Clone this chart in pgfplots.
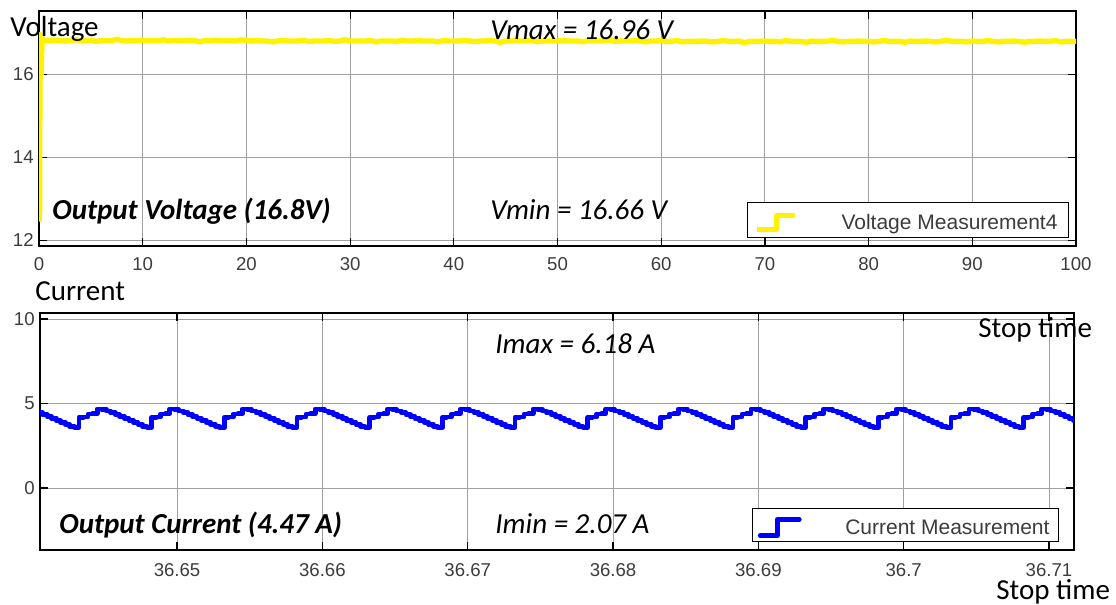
\documentclass[border=0pt]{standalone}
\usepackage{pgfplots}
\pgfplotsset{compat=1.18}
\usepackage{fontspec}
\setmainfont{Carlito}
\newfontfamily\arialfont{Liberation Sans}

\definecolor{gridgray}{RGB}{160,160,160}
\definecolor{ticktext}{RGB}{60,60,60}
\newcommand\annot{\fontsize{14.5}{17}\selectfont}

\pgfplotsset{
  scopestyle/.style={
    scale only axis,
    axis line style={black, line width=0.6pt},
    tick style={black, line width=0.6pt},
    major tick length=4pt,
    grid=major,
    grid style={gridgray, line width=0.5pt},
    /pgf/number format/assume math mode=true,
    tick label style={font=\arialfont\fontsize{9.3}{11}\selectfont, text=ticktext, inner sep=0pt},
    yticklabel style={xshift=-2.5pt},
    legend cell align=left,
    legend style={draw=black, line width=0.5pt, fill=white,
      inner xsep=0pt, inner ysep=0pt,
      font=\arialfont\fontsize{10.5}{12}\selectfont, text=ticktext},
  },
}

\begin{document}
\begin{tikzpicture}
\useasboundingbox (0,0) rectangle (558pt,302.5pt);

% ---------------- output voltage ----------------
\begin{axis}[
  scopestyle,
  at={(19.5pt,179.5pt)}, anchor=south west,
  width=518.5pt, height=117.5pt,
  xmin=0, xmax=100, ymin=11.862, ymax=17.535,
  xtick={0,10,...,100}, ytick={12,14,16},
  xticklabel style={yshift=-5.5pt},
  legend style={at={(rel axis cs:1,0)}, anchor=south east, xshift=-3.5pt, yshift=4pt,
    nodes={inner sep=0pt, text height=9.5pt, text depth=0pt}},
]
\addplot[yellow, line width=2.7pt, line join=round,
  legend image code/.code={
    \path[draw=none, fill=none] (-4.5pt,-8.75pt) rectangle (42.5pt,8.75pt);
    \draw[yellow, line width=2.4pt] (0pt,-4.75pt) -- (10pt,-4.75pt) -- (10pt,2.25pt) -- (19pt,2.25pt);
  }] coordinates {
(0.05,12.45) (0.1,16.97) (0.2,16.0) (0.3,16.88)
(0.5,16.82) (1,16.82) (1.5,16.83) (2,16.82) (2.5,16.81) (3,16.82) (3.5,16.84) (4,16.82) (4.5,16.82) (5,16.83)
(5.5,16.80) (6,16.82) (6.5,16.82) (7,16.82) (7.5,16.85) (8,16.82) (8.5,16.81) (9,16.82) (9.5,16.82) (10,16.83)
(10.5,16.82) (11,16.82) (11.5,16.82) (12,16.84) (12.5,16.81) (13,16.82) (13.5,16.82) (14,16.82) (14.5,16.83) (15,16.82)
(15.5,16.79) (16,16.82) (16.5,16.82) (17,16.83) (17.5,16.82) (18,16.82) (18.5,16.82) (19,16.81) (19.5,16.84) (20,16.82)
(20.5,16.81) (21,16.82) (21.5,16.81) (22,16.81) (22.5,16.79) (23,16.81) (23.5,16.82) (24,16.81) (24.5,16.81) (25,16.81)
(25.5,16.83) (26,16.80) (26.5,16.81) (27,16.81) (27.5,16.81) (28,16.82) (28.5,16.80) (29,16.81) (29.5,16.84) (30,16.81)
(30.5,16.81) (31,16.81) (31.5,16.81) (32,16.82) (32.5,16.79) (33,16.81) (33.5,16.81) (34,16.81) (34.5,16.80) (35,16.83)
(35.5,16.81) (36,16.81) (36.5,16.82) (37,16.81) (37.5,16.81) (38,16.81) (38.5,16.79) (39,16.82) (39.5,16.81) (40,16.81)
(40.5,16.81) (41,16.83) (41.5,16.81) (42,16.80) (42.5,16.81) (43,16.81) (43.5,16.82) (44,16.81) (44.5,16.78) (45,16.81)
(45.5,16.81) (46,16.82) (46.5,16.81) (47,16.81) (47.5,16.83) (48,16.80) (48.5,16.81) (49,16.81) (49.5,16.81) (50,16.81)
(50.5,16.82) (51,16.81) (51.5,16.81) (52,16.81) (52.5,16.79) (53,16.82) (53.5,16.81) (54,16.81) (54.5,16.81) (55,16.84)
(55.5,16.80) (56,16.81) (56.5,16.81) (57,16.81) (57.5,16.82) (58,16.81) (58.5,16.79) (59,16.81) (59.5,16.81) (60,16.82)
(60.5,16.80) (61,16.80) (61.5,16.82) (62,16.79) (62.5,16.80) (63,16.80) (63.5,16.80) (64,16.81) (64.5,16.80) (65,16.79)
(65.5,16.80) (66,16.82) (66.5,16.80) (67,16.80) (67.5,16.81) (68,16.77) (68.5,16.80) (69,16.80) (69.5,16.80) (70,16.81)
(70.5,16.80) (71,16.80) (71.5,16.79) (72,16.82) (72.5,16.80) (73,16.80) (73.5,16.80) (74,16.78) (74.5,16.81) (75,16.80)
(75.5,16.80) (76,16.80) (76.5,16.83) (77,16.80) (77.5,16.79) (78,16.80) (78.5,16.80) (79,16.81) (79.5,16.80) (80,16.80)
(80.5,16.79) (81,16.80) (81.5,16.82) (82,16.80) (82.5,16.80) (83,16.80) (83.5,16.78) (84,16.81) (84.5,16.80) (85,16.80)
(85.5,16.81) (86,16.80) (86.5,16.79) (87,16.80) (87.5,16.83) (88,16.80) (88.5,16.80) (89,16.80) (89.5,16.79) (90,16.81)
(90.5,16.80) (91,16.80) (91.5,16.82) (92,16.80) (92.5,16.79) (93,16.80) (93.5,16.80) (94,16.81) (94.5,16.80) (95,16.78)
(95.5,16.80) (96,16.80) (96.5,16.81) (97,16.80) (97.5,16.80) (98,16.82) (98.5,16.79) (99,16.80) (99.5,16.80) (100,16.80)
};
\addlegendentry{Voltage Measurement4\rule{5.5pt}{0pt}}
\end{axis}

% ---------------- output current (time axis in ms after 36.64 s) ----------------
\begin{axis}[
  scopestyle,
  at={(20pt,27.5pt)}, anchor=south west,
  width=517pt, height=118.5pt,
  xmin=0.57, xmax=71.72, ymin=-3.666, ymax=10.356,
  xtick={10,20,...,70},
  xticklabels={36.65,36.66,36.67,36.68,36.69,36.7,36.71},
  ytick={0,5,10},
  xticklabel style={yshift=-6.5pt},
  legend style={at={(rel axis cs:1,0)}, anchor=south east, xshift=-7.5pt, yshift=4pt,
    nodes={inner sep=0pt, text height=10pt, text depth=0pt}},
]
\addplot[blue, line width=2.4pt, const plot, line join=round, line cap=round,
  legend image code/.code={
    \path[draw=none, fill=none] (-4pt,-8.25pt) rectangle (42.5pt,8.25pt);
    \draw[blue, line width=2.4pt] (0pt,-5.25pt) -- (8.5pt,-5.25pt) -- (8.5pt,2.75pt) -- (19.5pt,2.75pt);
  }] coordinates {
(-0.5,4.68) (-0.1875,4.66) (0.125,4.56) (0.4375,4.45) (0.75,4.34) (1.0625,4.22) (1.375,4.11) (1.6875,3.99)
(2.0,3.88) (2.3125,3.76) (2.625,3.64) (2.9375,3.58) (3.25,4.18) (3.5625,4.20) (3.875,4.38) (4.1875,4.40)
(4.5,4.68) (4.8125,4.66) (5.125,4.56) (5.4375,4.45) (5.75,4.34) (6.0625,4.22) (6.375,4.11) (6.6875,3.99)
(7.0,3.88) (7.3125,3.76) (7.625,3.64) (7.9375,3.58) (8.25,4.18) (8.5625,4.20) (8.875,4.38) (9.1875,4.40)
(9.5,4.68) (9.8125,4.66) (10.125,4.56) (10.4375,4.45) (10.75,4.34) (11.0625,4.22) (11.375,4.11) (11.6875,3.99)
(12.0,3.88) (12.3125,3.76) (12.625,3.64) (12.9375,3.58) (13.25,4.18) (13.5625,4.20) (13.875,4.38) (14.1875,4.40)
(14.5,4.68) (14.8125,4.66) (15.125,4.56) (15.4375,4.45) (15.75,4.34) (16.0625,4.22) (16.375,4.11) (16.6875,3.99)
(17.0,3.88) (17.3125,3.76) (17.625,3.64) (17.9375,3.58) (18.25,4.18) (18.5625,4.20) (18.875,4.38) (19.1875,4.40)
(19.5,4.68) (19.8125,4.66) (20.125,4.56) (20.4375,4.45) (20.75,4.34) (21.0625,4.22) (21.375,4.11) (21.6875,3.99)
(22.0,3.88) (22.3125,3.76) (22.625,3.64) (22.9375,3.58) (23.25,4.18) (23.5625,4.20) (23.875,4.38) (24.1875,4.40)
(24.5,4.68) (24.8125,4.66) (25.125,4.56) (25.4375,4.45) (25.75,4.34) (26.0625,4.22) (26.375,4.11) (26.6875,3.99)
(27.0,3.88) (27.3125,3.76) (27.625,3.64) (27.9375,3.58) (28.25,4.18) (28.5625,4.20) (28.875,4.38) (29.1875,4.40)
(29.5,4.68) (29.8125,4.66) (30.125,4.56) (30.4375,4.45) (30.75,4.34) (31.0625,4.22) (31.375,4.11) (31.6875,3.99)
(32.0,3.88) (32.3125,3.76) (32.625,3.64) (32.9375,3.58) (33.25,4.18) (33.5625,4.20) (33.875,4.38) (34.1875,4.40)
(34.5,4.68) (34.8125,4.66) (35.125,4.56) (35.4375,4.45) (35.75,4.34) (36.0625,4.22) (36.375,4.11) (36.6875,3.99)
(37.0,3.88) (37.3125,3.76) (37.625,3.64) (37.9375,3.58) (38.25,4.18) (38.5625,4.20) (38.875,4.38) (39.1875,4.40)
(39.5,4.68) (39.8125,4.66) (40.125,4.56) (40.4375,4.45) (40.75,4.34) (41.0625,4.22) (41.375,4.11) (41.6875,3.99)
(42.0,3.88) (42.3125,3.76) (42.625,3.64) (42.9375,3.58) (43.25,4.18) (43.5625,4.20) (43.875,4.38) (44.1875,4.40)
(44.5,4.68) (44.8125,4.66) (45.125,4.56) (45.4375,4.45) (45.75,4.34) (46.0625,4.22) (46.375,4.11) (46.6875,3.99)
(47.0,3.88) (47.3125,3.76) (47.625,3.64) (47.9375,3.58) (48.25,4.18) (48.5625,4.20) (48.875,4.38) (49.1875,4.40)
(49.5,4.68) (49.8125,4.66) (50.125,4.56) (50.4375,4.45) (50.75,4.34) (51.0625,4.22) (51.375,4.11) (51.6875,3.99)
(52.0,3.88) (52.3125,3.76) (52.625,3.64) (52.9375,3.58) (53.25,4.18) (53.5625,4.20) (53.875,4.38) (54.1875,4.40)
(54.5,4.68) (54.8125,4.66) (55.125,4.56) (55.4375,4.45) (55.75,4.34) (56.0625,4.22) (56.375,4.11) (56.6875,3.99)
(57.0,3.88) (57.3125,3.76) (57.625,3.64) (57.9375,3.58) (58.25,4.18) (58.5625,4.20) (58.875,4.38) (59.1875,4.40)
(59.5,4.68) (59.8125,4.66) (60.125,4.56) (60.4375,4.45) (60.75,4.34) (61.0625,4.22) (61.375,4.11) (61.6875,3.99)
(62.0,3.88) (62.3125,3.76) (62.625,3.64) (62.9375,3.58) (63.25,4.18) (63.5625,4.20) (63.875,4.38) (64.1875,4.40)
(64.5,4.68) (64.8125,4.66) (65.125,4.56) (65.4375,4.45) (65.75,4.34) (66.0625,4.22) (66.375,4.11) (66.6875,3.99)
(67.0,3.88) (67.3125,3.76) (67.625,3.64) (67.9375,3.58) (68.25,4.18) (68.5625,4.20) (68.875,4.38) (69.1875,4.40)
(69.5,4.68) (69.8125,4.66) (70.125,4.56) (70.4375,4.45) (70.75,4.34) (71.0625,4.22) (71.375,4.11) (71.6875,3.99)
(72.0,3.88)
};
\addlegendentry{Current Measurement\rule{4.5pt}{0pt}}
\end{axis}

% ---------------- annotations ----------------
\begin{scope}[every node/.style={inner sep=0pt, anchor=base west}]
\node[font=\annot] at (5pt,284.15pt) {Voltage};
\node[font=\annot] at (17.5pt,152.25pt) {Current};
\node[font=\annot] at (489pt,133.65pt) {Stop time};
\node[font=\annot] at (498pt,2.5pt) {Stop time};
\node[font=\annot\bfseries\itshape] at (26pt,192.5pt) {Output Voltage (16.8V)};
\node[font=\annot\bfseries\itshape] at (29.5pt,35.5pt) {Output Current (4.47 A)};
\node[font=\annot\itshape] at (245pt,282.75pt) {Vmax = 16.96 V};
\node[font=\annot\itshape] at (245pt,192.5pt) {Vmin = 16.66 V};
\node[font=\annot\itshape] at (247.5pt,125.5pt) {Imax = 6.18 A};
\node[font=\annot\itshape] at (247.5pt,35.5pt) {Imin = 2.07 A};
\end{scope}
\end{tikzpicture}
\end{document}
